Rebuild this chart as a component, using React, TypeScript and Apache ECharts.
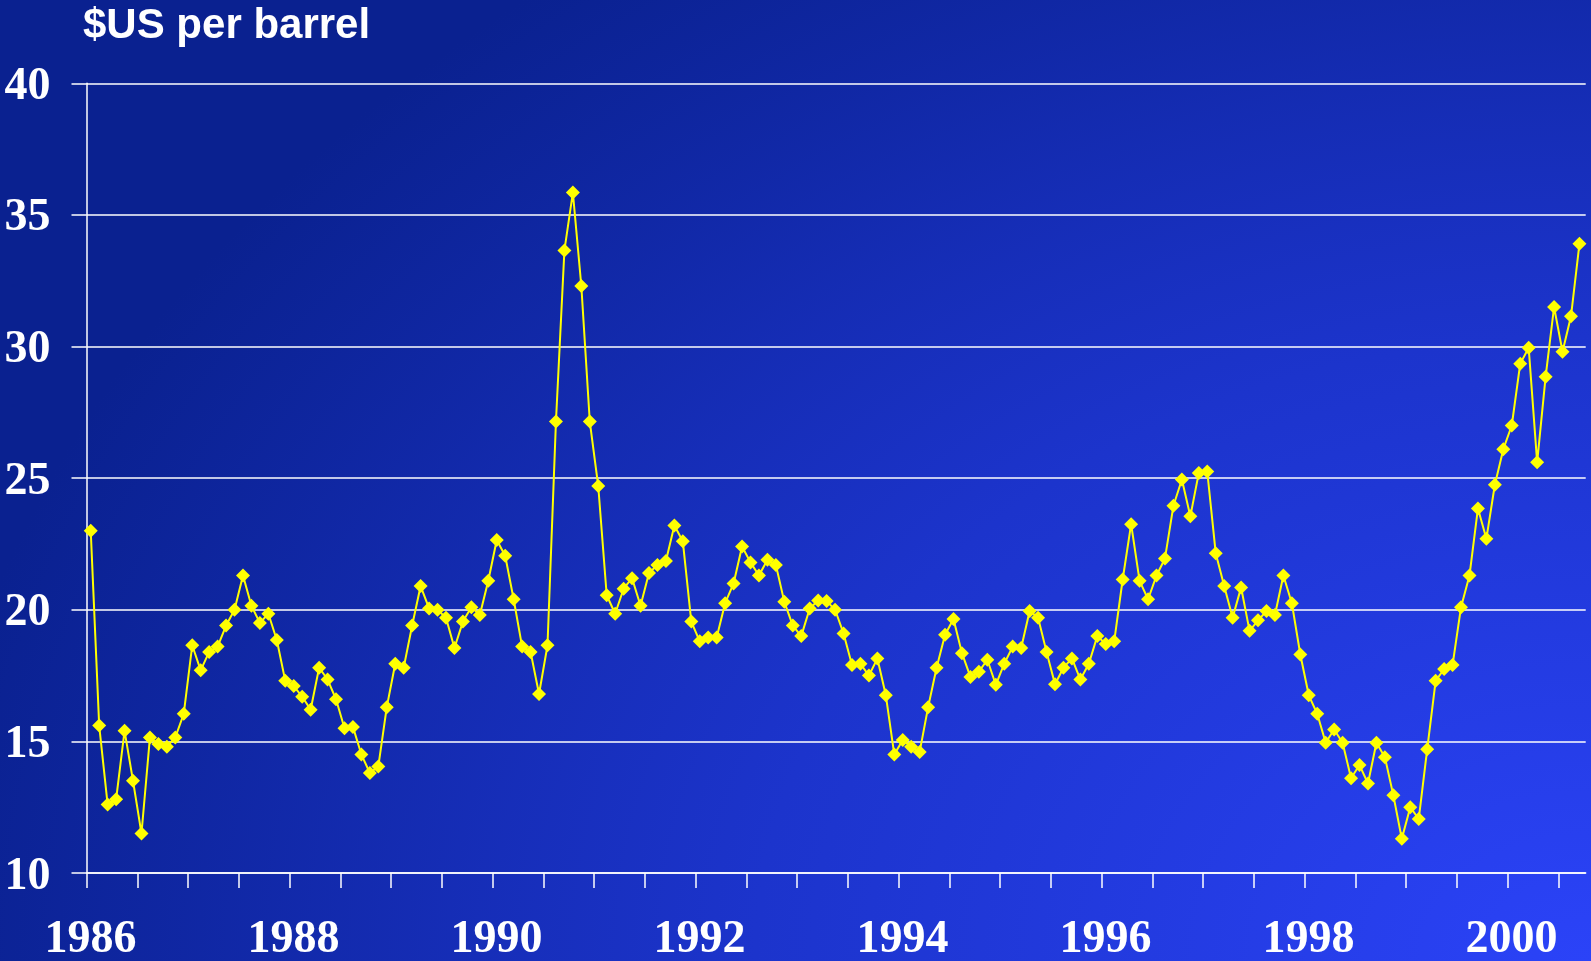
import React, { useEffect, useRef } from "react";
import * as echarts from "echarts";

const START_YEAR = 1986;
const TITLE = "$US per barrel";

const prices1986 = [23.0, 15.6, 12.6, 12.8, 15.4, 13.5, 11.5, 15.15, 14.9, 14.8, 15.15, 16.05];
const prices1987 = [18.65, 17.7, 18.4, 18.6, 19.4, 20.0, 21.3, 20.15, 19.5, 19.85, 18.85, 17.3];
const prices1988 = [17.1, 16.7, 16.2, 17.8, 17.35, 16.6, 15.5, 15.55, 14.5, 13.8, 14.05, 16.3];
const prices1989 = [17.95, 17.8, 19.4, 20.9, 20.05, 20.0, 19.7, 18.55, 19.55, 20.1, 19.8, 21.1];
const prices1990 = [22.65, 22.05, 20.4, 18.6, 18.4, 16.8, 18.65, 27.15, 33.65, 35.85, 32.3, 27.15];
const prices1991 = [24.7, 20.55, 19.85, 20.8, 21.2, 20.15, 21.4, 21.7, 21.85, 23.2, 22.6, 19.55];
const prices1992 = [18.8, 18.95, 18.95, 20.25, 21.0, 22.4, 21.8, 21.3, 21.9, 21.7, 20.3, 19.4];
const prices1993 = [19.0, 20.05, 20.35, 20.33, 20.0, 19.1, 17.9, 17.95, 17.5, 18.15, 16.75, 14.5];
const prices1994 = [15.05, 14.8, 14.6, 16.3, 17.8, 19.05, 19.65, 18.35, 17.45, 17.65, 18.1, 17.15];
const prices1995 = [17.95, 18.6, 18.55, 19.95, 19.7, 18.4, 17.17, 17.8, 18.15, 17.35, 17.95, 19.0];
const prices1996 = [18.7, 18.8, 21.15, 23.25, 21.1, 20.4, 21.3, 21.95, 23.95, 24.95, 23.55, 25.2];
const prices1997 = [25.25, 22.15, 20.9, 19.7, 20.85, 19.2, 19.6, 19.95, 19.8, 21.3, 20.25, 18.3];
const prices1998 = [16.75, 16.05, 14.95, 15.45, 14.95, 13.6, 14.1, 13.4, 14.95, 14.4, 12.95, 11.3];
const prices1999 = [12.5, 12.05, 14.7, 17.3, 17.75, 17.9, 20.1, 21.3, 23.85, 22.7, 24.75, 26.1];
const prices2000 = [27.0, 29.35, 29.95, 25.6, 28.85, 31.5, 29.8, 31.15, 33.9];

const yearlyPrices = [
  prices1986, prices1987, prices1988, prices1989, prices1990,
  prices1991, prices1992, prices1993, prices1994, prices1995,
  prices1996, prices1997, prices1998, prices1999, prices2000,
];

const Y_MIN = 10;
const Y_MAX = 40;
const Y_STEP = 5;
const X_MAX = 2000.77;

export default function App() {
  const ref = useRef<HTMLDivElement>(null);

  useEffect(() => {
    if (!ref.current) return;
    const chart = echarts.init(ref.current, null, { renderer: "svg" });

    const data: [number, number][] = [];
    yearlyPrices.forEach((arr, yi) => {
      arr.forEach((v, m) => {
        data.push([START_YEAR + yi + (m + 0.5) / 12, v]);
      });
    });

    const halfYearTicks: number[] = [];
    for (let t = START_YEAR; t <= X_MAX; t += 0.5) halfYearTicks.push(t);
    const labelYears: number[] = [];
    for (let t = START_YEAR; t <= X_MAX; t += 2) labelYears.push(t);

    const serif = "'Liberation Serif', 'Times New Roman', serif";
    const sans = "'Liberation Sans', Arial, sans-serif";

    chart.setOption({
      animation: false,
      backgroundColor: "transparent",
      graphic: [
        {
          type: "text",
          left: 83,
          top: 2,
          style: {
            text: TITLE,
            fill: "#ffffff",
            font: `bold 42px ${sans}`,
          },
        },
      ],
      grid: { left: 86.5, right: 5.3, top: 83.3, bottom: 88, containLabel: false },
      xAxis: {
        type: "value",
        min: START_YEAR,
        max: X_MAX,
        interval: 0.5,
        axisLine: { show: true, lineStyle: { color: "#ffffff", width: 1.5 } },
        axisTick: {
          show: true,
          length: 15,
          customValues: halfYearTicks,
          lineStyle: { color: "#ffffff", width: 1.5 },
        },
        splitLine: { show: false },
        axisLabel: {
          color: "#ffffff",
          fontFamily: serif,
          fontWeight: "bold",
          fontSize: 46,
          margin: 40,
          padding: [0, 0, 0, 8],
          customValues: labelYears,
          formatter: (v: number) => String(Math.round(v)),
        },
      },
      yAxis: {
        type: "value",
        min: Y_MIN,
        max: Y_MAX,
        interval: Y_STEP,
        axisLine: { show: true, lineStyle: { color: "#ffffff", width: 1.5 } },
        axisTick: { show: true, length: 15, lineStyle: { color: "#ffffff", width: 1.5 } },
        splitLine: { show: true, lineStyle: { color: "#ffffff", width: 1.5 } },
        axisLabel: {
          color: "#ffffff",
          fontFamily: serif,
          fontWeight: "bold",
          fontSize: 46,
          margin: 36,
        },
      },
      series: [
        {
          type: "line",
          data,
          symbol: "diamond",
          symbolSize: 14,
          showAllSymbol: true,
          lineStyle: { color: "#ffff00", width: 2 },
          itemStyle: { color: "#ffff00" },
          emphasis: { disabled: true },
        },
      ],
    });

    return () => chart.dispose();
  }, []);

  return (
    <div
      ref={ref}
      style={{
        position: "fixed",
        left: 0,
        top: 0,
        width: 1591,
        height: 961,
        background:
          "radial-gradient(ellipse 105% 130% at 100% 100%, #2b43f8 0%, #1c34cc 50%, #0a2190 100%)",
      }}
    />
  );
}
